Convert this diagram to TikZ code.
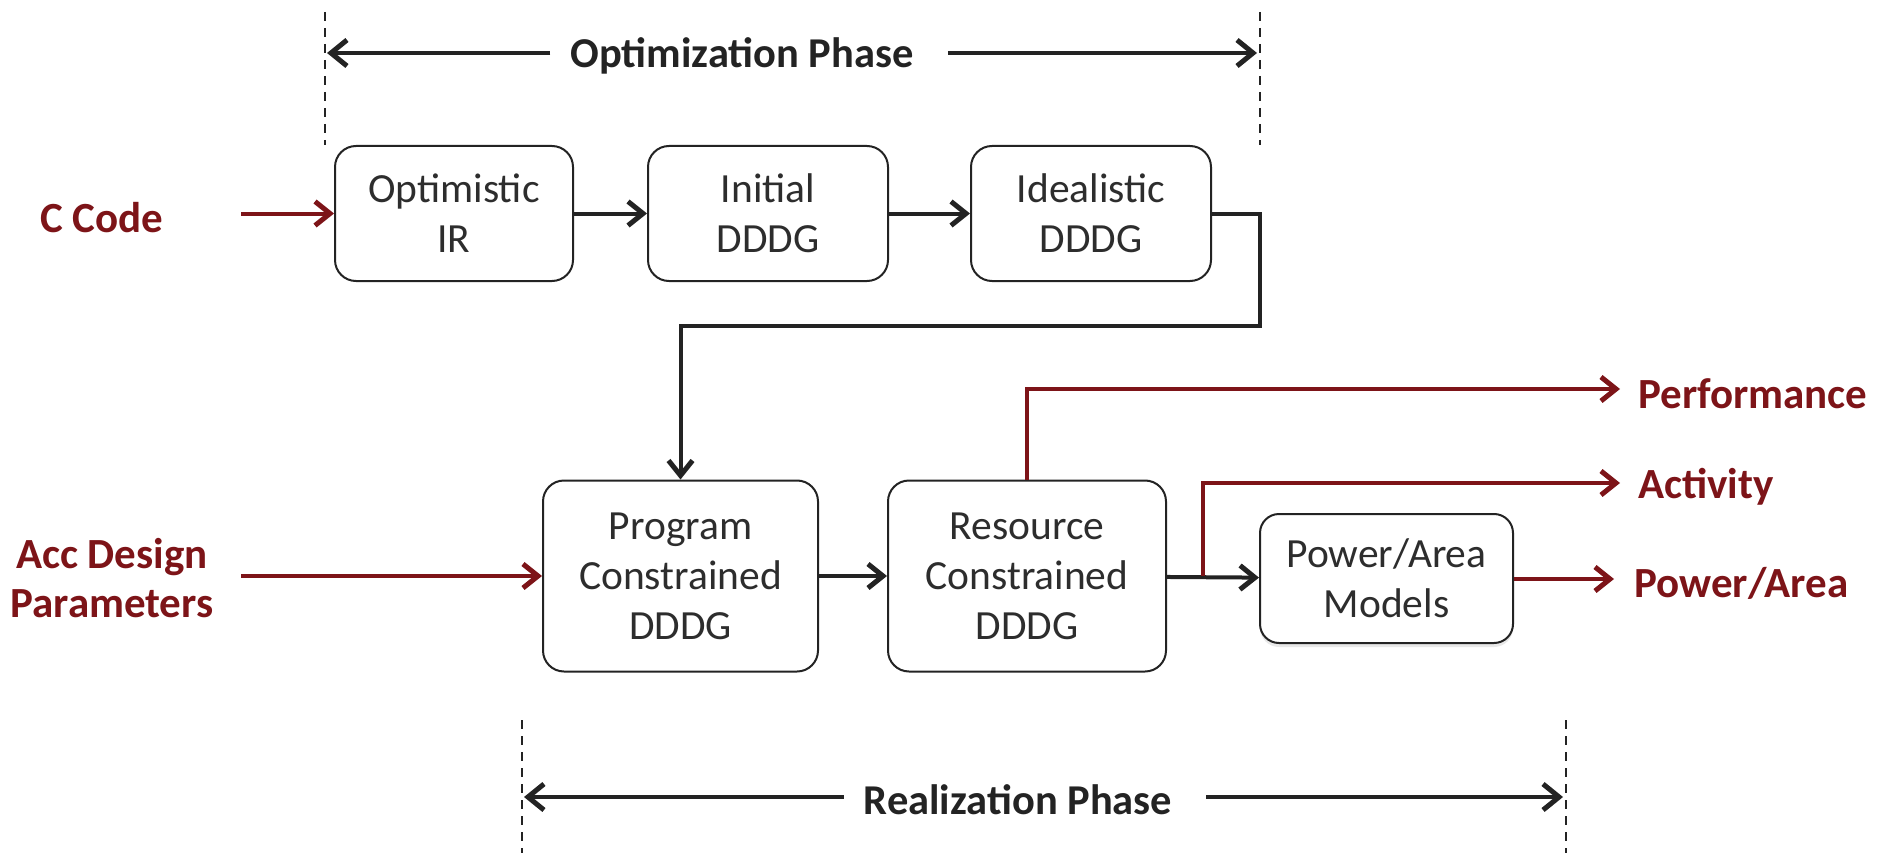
\documentclass[tikz,border=0pt]{standalone}
\usepackage{fontspec}
\setmainfont{Carlito}
\usetikzlibrary{arrows.meta,shadows}
\definecolor{dred}{RGB}{125,20,24}
\definecolor{ink}{RGB}{35,35,35}
\definecolor{boxtxt}{RGB}{45,45,45}
\tikzset{
  tip/.style={-{Straight Barb[length=15pt,width=24pt,line width=5pt]}},
  stagebox/.style={draw=ink, line width=2pt, rounded corners=21pt, fill=white,
    align=center, text=boxtxt, font=\fontsize{41.5}{50}\selectfont, inner sep=0pt},
  flow/.style={draw=ink, line width=4pt, tip},
  redflow/.style={draw=dred, line width=4pt, tip},
  redlabel/.style={text=dred, font=\bfseries\fontsize{43}{48}\selectfont, align=center, inner sep=0pt},
  phaselabel/.style={text=ink, font=\bfseries\fontsize{42.5}{48}\selectfont, inner xsep=20pt, inner ysep=0pt},
  phaseline/.style={draw=ink, line width=4pt, -{Straight Barb[length=16pt,width=26pt,line width=5pt]}},
  bound/.style={draw=ink, line width=1.4pt, dash pattern=on 9pt off 7pt}
}
\begin{document}
\begin{tikzpicture}[x=1pt,y=-1pt]
\useasboundingbox (0,0) rectangle (1889,853);

% optimization phase span
\coordinate (oLt) at (325,12);  \coordinate (oLb) at (325,145);
\coordinate (oRt) at (1260,12); \coordinate (oRb) at (1260,145);
\draw[bound] (oLt) -- (oLb);
\draw[bound] (oRt) -- (oRb);
\coordinate (oL) at (327,53); \coordinate (oR) at (1257,53);
\node[phaselabel] (optphase) at (742,56) {Optimization Phase};
\draw[phaseline] (optphase.west |- oL) -- (oL);
\draw[phaseline] ([xshift=14pt]optphase.east |- oR) -- (oR);

% realization phase span
\coordinate (rLt) at (522,720); \coordinate (rLb) at (522,853);
\coordinate (rRt) at (1566,720); \coordinate (rRb) at (1566,853);
\draw[bound] (rLt) -- (rLb);
\draw[bound] (rRt) -- (rRb);
\coordinate (rL) at (524,797); \coordinate (rR) at (1563,797);
\node[phaselabel] (realphase) at (1018,800) {Realization Phase};
\draw[phaseline] (realphase.west |- rL) -- (rL);
\draw[phaseline] ([xshift=14pt]realphase.east |- rR) -- (rR);

% first row
\node[stagebox, minimum width=238pt, minimum height=135pt] (opt) at (454,213.5) {Optimistic\\IR};
\node[stagebox, minimum width=240pt, minimum height=135pt] (ini) at (768,213.5) {Initial\\DDDG};
\node[stagebox, minimum width=240pt, minimum height=135pt] (ide) at (1091,213.5) {Idealistic\\DDDG};

% second row
\node[stagebox, minimum width=275pt, minimum height=191pt] (prog) at (680.5,576) {Program\\Constrained\\DDDG};
\node[stagebox, minimum width=278pt, minimum height=191pt] (res) at (1027,576) {Resource\\Constrained\\DDDG};
\node[stagebox, rounded corners=19pt, minimum width=253pt, minimum height=129pt,
      drop shadow={shadow xshift=0pt, shadow yshift=-4pt, opacity=0.18, fill=black!50}] (pa) at (1386.5,578.5) {Power/Area\\Models};

% inputs
\node[redlabel] (ccode) at (102,218) {C Code};
\coordinate (cin) at (241,213.5);
\draw[redflow] (cin) -- (opt.west);
\node[redlabel, font=\bfseries\fontsize{43}{49}\selectfont] (accp) at (112,578) {Acc Design\\Parameters};
\coordinate (ain) at (241,576);
\draw[redflow] (ain) -- (prog.west);

% outputs
\node[redlabel, anchor=west] (perf) at (1638,394) {Performance};
\node[redlabel, anchor=west] (act) at (1638,487) {Activity};
\node[redlabel, anchor=west] (pwr) at (1634,583) {Power/Area};
\coordinate (perfin) at (1620,389);
\coordinate (actin) at (1620,483);
\coordinate (pwrin) at (1614,579);

% flow between stages
\draw[flow] (opt) -- (ini);
\draw[flow] (ini) -- (ide);
\coordinate (turn) at (1260,326);
\draw[flow] (ide.east) -| (turn) -| (prog.north);
\draw[flow] (prog) -- (res);
\draw[flow] (res) -- (pa);

% reported results
\coordinate (split) at (1203,576);
\draw[redflow] (split) |- (actin);
\draw[redflow] (res.north) |- (perfin);
\draw[redflow] (pa.east |- pwrin) -- (pwrin);
\end{tikzpicture}
\end{document}
